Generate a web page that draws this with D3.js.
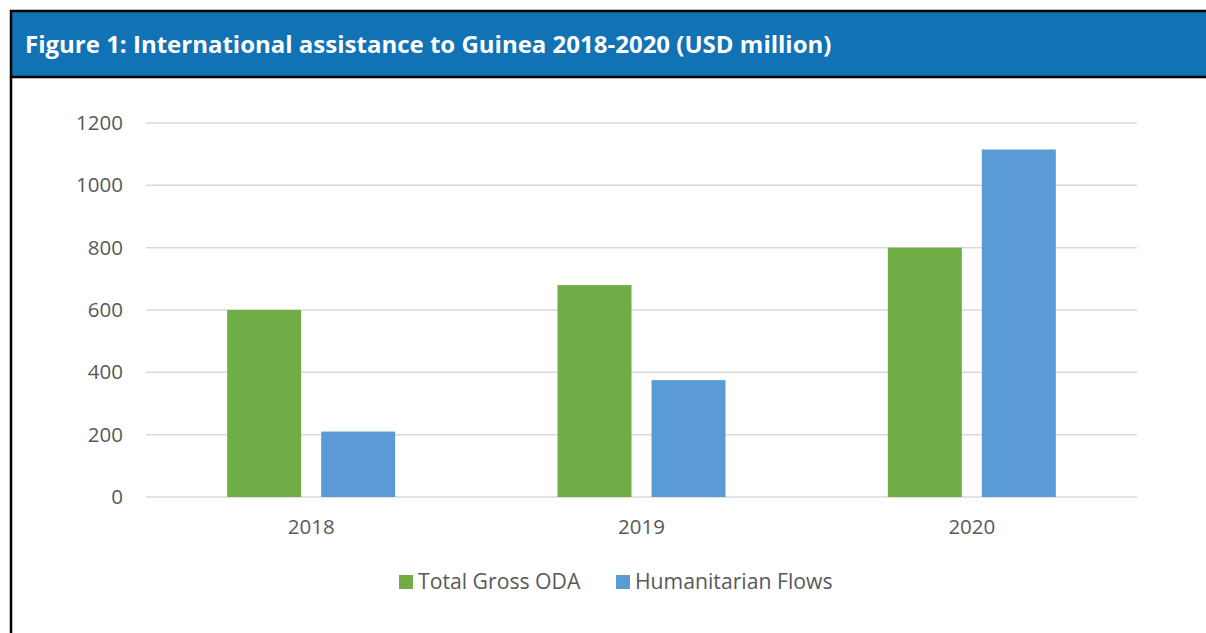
<!DOCTYPE html>
<html>
<head>
<meta charset="utf-8">
<script src="https://cdn.jsdelivr.net/npm/d3@7"></script>
<style>
  body { margin: 0; background: #fff; }
  svg { display: block; font-family: "Open Sans", sans-serif; }
</style>
</head>
<body>
<div id="chart"></div>
<script>
// data
const years = ["2018", "2019", "2020"];
const totalGrossODA = [600, 680, 800];
const humanitarianFlows = [210, 375, 1115];
const seriesNames = ["Total Gross ODA", "Humanitarian Flows"];
const seriesColors = ["#70AD47", "#5B9BD5"];
const yTicks = [0, 200, 400, 600, 800, 1000, 1200];
const title = "Figure 1: International assistance to Guinea 2018-2020 (USD million)";

drawChart();

function drawChart() {
	const W = 1206, H = 633;
	const svg = d3.select("#chart")
				  .append("svg")
				  .attr("width", W)
				  .attr("height", H);

	// frame + header
	svg.append("rect")
	   .attr("x", 11).attr("y", 11)
	   .attr("width", W).attr("height", 66)
	   .attr("fill", "#1172B6")
	   .attr("stroke", "#000")
	   .attr("stroke-width", 2.5);
	svg.append("line")
	   .attr("x1", 11).attr("y1", 77)
	   .attr("x2", 11).attr("y2", H)
	   .attr("stroke", "#000")
	   .attr("stroke-width", 2.5);

	svg.append("text")
	   .attr("x", 25)
	   .attr("y", 53)
	   .attr("fill", "#fff")
	   .style("font-size", "24px")
	   .style("font-weight", "bold")
	   .text(title);

	const margin = {left: 146, right: 69, top: 123, bottom: 136};
	const width = W - margin.left - margin.right,
		  height = H - margin.top - margin.bottom;

	const g = svg.append("g")
				 .attr("transform", `translate(${margin.left},${margin.top})`);

	const x = d3.scaleBand()
				.domain(years)
				.range([0, width]);

	const y = d3.scaleLinear()
				.domain([0, 1200])
				.range([height, 0]);

	// gridlines
	g.append("g")
	 .selectAll("line")
	 .data(yTicks)
	 .enter()
	 .append("line")
	 .attr("x1", 0)
	 .attr("x2", width)
	 .attr("y1", d => y(d))
	 .attr("y2", d => y(d))
	 .attr("stroke", "#D9D9D9")
	 .attr("stroke-width", 1.5);

	// y axis labels
	const yAxis = g.append("g")
				   .call(d3.axisLeft(y).tickValues(yTicks).tickFormat(d3.format("d")).tickSize(0).tickPadding(23));
	yAxis.select(".domain").remove();
	yAxis.selectAll("text")
		 .style("font-size", "20.5px")
		 .style("font-family", "Open Sans")
		 .attr("fill", "#595959");

	// x axis labels
	const xAxis = g.append("g")
				   .attr("transform", `translate(0,${height})`)
				   .call(d3.axisBottom(x).tickSize(0).tickPadding(22));
	xAxis.select(".domain").remove();
	xAxis.selectAll("text")
		 .style("font-size", "20.5px")
		 .style("font-family", "Open Sans")
		 .attr("fill", "#595959");

	// bars
	const barW = 74, gap = 20;
	const series = [totalGrossODA, humanitarianFlows];
	series.forEach((vals, si) => {
		g.append("g")
		 .selectAll("rect")
		 .data(vals)
		 .enter()
		 .append("rect")
		 .attr("x", (d, i) => x(years[i]) + x.bandwidth() / 2 - barW - gap / 2 + si * (barW + gap))
		 .attr("y", d => y(d))
		 .attr("width", barW)
		 .attr("height", d => height - y(d))
		 .attr("fill", seriesColors[si]);
	});

	// legend
	const legendX = [399, 616];
	const legend = svg.append("g");
	seriesNames.forEach((name, i) => {
		legend.append("rect")
			  .attr("x", legendX[i])
			  .attr("y", 575)
			  .attr("width", 14)
			  .attr("height", 14)
			  .attr("fill", seriesColors[i]);
		legend.append("text")
			  .attr("x", legendX[i] + 19)
			  .attr("y", 589)
			  .style("font-size", "21.2px")
			  .attr("fill", "#595959")
			  .text(name);
	});
}
</script>
</body>
</html>
